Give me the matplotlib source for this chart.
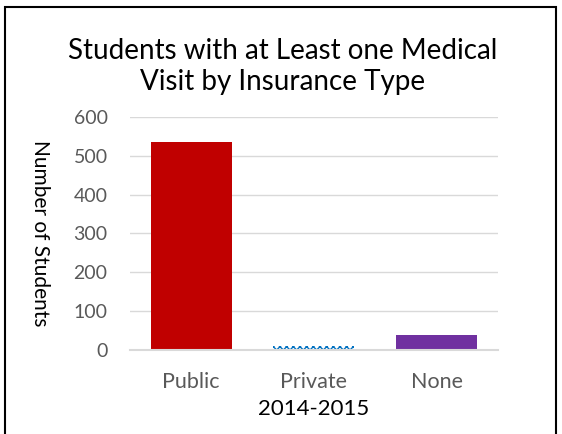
import matplotlib.pyplot as plt
from matplotlib.patches import Rectangle

categories = ['Public', 'Private', 'None']
students = [535, 10, 38]
colors = ['#c00000', 'white', '#7030a0']

plt.rcParams['font.family'] = ['Lato', 'DejaVu Sans']

fig = plt.figure(figsize=(5.62, 4.34), dpi=100)
ax = fig.add_axes([0.231, 0.1935, 0.655, 0.537])

bars = ax.bar(categories, students, width=0.66, color=colors, zorder=2)
bars[1].set_hatch('xxxxx')
bars[1].set_edgecolor('#0070c0')
bars[1].set_linewidth(0)

ax.set_ylim(0, 600)
ax.set_yticks(range(0, 601, 100))
ax.set_xlim(-0.5, 2.5)
ax.grid(axis='y', color='#d9d9d9', linewidth=1, zorder=0)
for s in ['top', 'right', 'left']:
    ax.spines[s].set_visible(False)
ax.spines['bottom'].set_color('#d9d9d9')
ax.spines['bottom'].set_linewidth(1.5)
ax.tick_params(length=0, labelcolor='#595959')
ax.tick_params(axis='y', labelsize=14, pad=16)
ax.tick_params(axis='x', labelsize=15.5, pad=16)

ax.set_xlabel('2014-2015', fontsize=16, labelpad=5)
ax.set_ylabel('Number of Students', fontsize=15, rotation=-90, va='center')
ax.yaxis.set_label_coords(-0.245, 0.5)

fig.text(0.503, 0.846, 'Students with at Least one Medical\nVisit by Insurance Type',
         ha='center', va='center', fontsize=20, linespacing=1.25)

fig.patches.append(Rectangle((0.009, -0.05), 0.98, 1.034, transform=fig.transFigure,
                             fill=False, edgecolor='black', linewidth=1.5))

fig.savefig('out.png', dpi=100)
